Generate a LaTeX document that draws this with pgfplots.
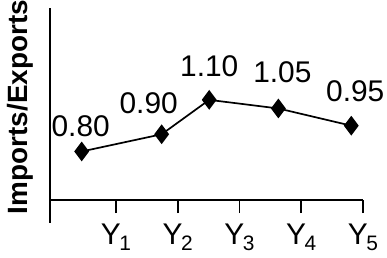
\documentclass[border=0pt]{standalone}
\usepackage{fontspec}
\setmainfont{Liberation Sans}
\usepackage{pgfplots}
\pgfplotsset{compat=1.18}
\usepackage{pgfplotstable}
\newcommand{\ysub}[1]{Y\kern-1.5bp\raisebox{-6bp}{\fontsize{21}{21}\selectfont #1}}
\pgfplotstableread{
x y label dx dy
0.445 0.80 0.80 -1 14
1.74 0.90 0.90 -13 20
2.51 1.10 1.10 0 22
3.63 1.05 1.05 4 25
4.81 0.95 0.95 4 23
}\datatable
\begin{document}
\begin{tikzpicture}
\useasboundingbox (0,0) rectangle (387bp,258bp);
\begin{axis}[
 at={(50bp,58bp)}, anchor=south west,
 scale only axis, width=313bp, height=192bp,
 xmin=-0.068, xmax=5, ymin=0.518, ymax=1.634,
 axis x line*=bottom, axis y line*=left,
 axis line style={line width=1.7bp, black},
 xtick={1,2,3,4,5},
 xticklabels={\ysub{1},\ysub{2},\ysub{3},\ysub{4},\ysub{5}},
 ytick=\empty,
 tick align=outside, major tick length=13bp,
 tick style={line width=1.7bp, black},
 xticklabel style={font=\fontsize{30}{30}\selectfont, anchor=north, inner sep=0pt, yshift=-11bp},
 ylabel={Imports/Exports},
 ylabel style={font=\fontsize{28}{28}\selectfont\bfseries, at={(axis description cs:-0.096,0.484)}, anchor=center},
 clip=false,
]
\addplot[black, line width=1.7bp, mark=diamond*, mark size=8.5bp,
 nodes near coords, point meta=explicit symbolic,
 visualization depends on={\thisrow{dx} \as \dx},
 visualization depends on={\thisrow{dy} \as \dy},
 every node near coord/.append style={font=\fontsize{30}{30}\selectfont, anchor=south, inner sep=0pt, xshift=\dx bp, yshift=\dy bp}
] table[x=x, y=y, meta=label] {\datatable};
\draw[line width=1.7bp] (rel axis cs:0,0) -- (rel axis cs:0,-0.12);
\end{axis}
\end{tikzpicture}
\end{document}
